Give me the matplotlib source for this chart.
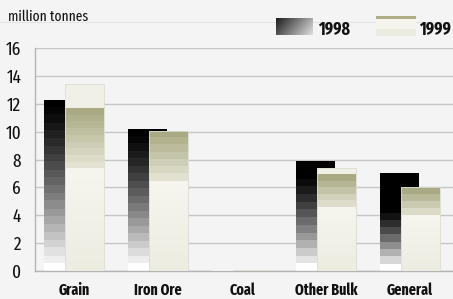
import numpy as np
import matplotlib
matplotlib.use("Agg")
import matplotlib.pyplot as plt
from matplotlib import font_manager as fm
from matplotlib.colors import to_rgb
from matplotlib.lines import Line2D

# ---------------- data ----------------
categories = ["Grain", "Iron Ore", "Coal", "Other Bulk", "General"]
series_labels = ["1998", "1999"]
values_1998 = [12.3, 10.2, 0.1, 7.9, 7.0]
values_1999 = [13.4, 10.05, 0.1, 7.4, 6.0]
y_ticks = [0, 2, 4, 6, 8, 10, 12, 14, 16]
y_label = "million tonnes"

# ---------------- style (gradient shaping per bar, as fractions of bar height) ----------------
black_from_1998 = [1.0, 1.0, 1.0, 0.9, 0.67]
khaki_band_1999 = [(0.55, 0.87), (0.64, 1.0), (1.0, 1.0), (0.62, 0.93), (0.67, 1.0)]

avail = {f.name for f in fm.fontManager.ttflist}
cands = ["Fira Sans Extra Condensed", "Fira Sans Condensed", "Roboto Condensed", "PT Sans Narrow",
         "Archivo Narrow", "Liberation Sans Narrow"]
fam = [f for f in cands if f in avail][:1] + ["DejaVu Sans"]
plt.rcParams["font.family"] = fam

W, H = 453, 299
BG = "#f4f4f4"
fig = plt.figure(figsize=(W / 100, H / 100), dpi=100)
fig.patch.set_facecolor(BG)
ax = fig.add_axes([35 / W, 1 - 271 / H, (W - 35) / W, (271 - 48) / H])
ax.set_facecolor(BG)

x = np.arange(len(categories))
w, d = 0.46, 0.125
bars98 = ax.bar(x - d, values_1998, w, facecolor="none", edgecolor="none", zorder=2)
bars99 = ax.bar(x + d, values_1999, w, facecolor="none", edgecolor="#dcdcd0", linewidth=0.6, zorder=3)

ROWS = 400


def lerp(c1, c2, t):
    a, b = np.array(to_rgb(c1)), np.array(to_rgb(c2))
    return a + (b - a) * t


def img_1998(h, g):
    n = max(2, int(round(g * h / 0.55)))
    img = np.zeros((ROWS, 1, 3))
    for r in range(ROWS):
        f = (r + 0.5) / ROWS
        t = min(f / g, 1.0)
        tq = min(np.floor(t * n) / (n - 1), 1.0)
        v = (1.0 - tq) ** 1.25
        img[r, 0] = [v, v, v]
    return img


def img_1999(h, a, b):
    nk = max(1, int(round((b - a) * h / 0.5)))
    img = np.zeros((ROWS, 1, 3))
    for r in range(ROWS):
        f = (r + 0.5) / ROWS
        if f < a:
            img[r, 0] = lerp("#edece1", "#f6f6ef", f / a)
        elif f <= b:
            t = (f - a) / (b - a) if b > a else 1.0
            tq = np.ceil(t * nk) / nk
            img[r, 0] = lerp("#ecebdd", "#a9a983", tq)
        else:
            img[r, 0] = to_rgb("#f1f0e7")
    return img


for i, p in enumerate(bars98.patches):
    x0, h = p.get_x(), p.get_height()
    im = ax.imshow(img_1998(h, black_from_1998[i]), extent=(x0, x0 + p.get_width(), 0, h),
                   origin="lower", aspect="auto", interpolation="nearest", zorder=1.9)
    im.set_clip_path(p)

for i, p in enumerate(bars99.patches):
    x0, h = p.get_x(), p.get_height()
    a, b = khaki_band_1999[i]
    im = ax.imshow(img_1999(h, a, b), extent=(x0, x0 + p.get_width(), 0, h),
                   origin="lower", aspect="auto", interpolation="nearest", zorder=2.9)
    im.set_clip_path(p)

ax.set_xlim(-0.464, 4.51)
ax.set_ylim(0, 16)
ax.set_yticks(y_ticks)
ax.set_yticklabels([str(v) for v in y_ticks], fontsize=13.5, color="#111111")
ax.set_xticks(x)
ax.set_xticklabels(categories, fontsize=11, fontweight="bold", color="#111111")
ax.tick_params(axis="both", length=0)
ax.tick_params(axis="y", pad=10)
ax.tick_params(axis="x", pad=8)
ax.yaxis.grid(True, color="#c6c6c6", linewidth=1)
ax.set_axisbelow(True)
for s in ["top", "right"]:
    ax.spines[s].set_visible(False)
for s in ["left", "bottom"]:
    ax.spines[s].set_color("#b4b4b4")
    ax.spines[s].set_linewidth(1)

# header text and faint separator
fig.text(8 / W, 1 - 21 / H, y_label, fontsize=10.5, color="#111111", va="baseline", ha="left")
fig.add_artist(Line2D([0, 1], [1 - 22 / H, 1 - 22 / H], color="#e4e4e4", linewidth=0.8))

# legend (overlay in pixel coordinates)
lax = fig.add_axes([0, 0, 1, 1], zorder=5)
lax.axis("off")
lax.patch.set_alpha(0)

gx = np.linspace(0, 1, 40)[None, :]
gy = np.linspace(0, 1, 17)[:, None]
g = np.clip(0.12 + 0.55 * gx + 0.2 * gy, 0, 1)
lax.imshow(np.dstack([g, g, g]), extent=(276, 313, 35, 18), aspect="auto", interpolation="bilinear")
lax.imshow(np.array([[to_rgb("#aeae88")]] * 3 + [[to_rgb("#f4f3ec")]] * 10 + [[to_rgb("#ecebe0")]] * 7),
           extent=(376, 416, 36, 16), aspect="auto", interpolation="nearest")
lax.text(318, 35, series_labels[0], fontsize=12.5, fontweight="bold", color="#111111", va="baseline")
lax.text(419, 35, series_labels[1], fontsize=12.5, fontweight="bold", color="#111111", va="baseline")
lax.set_xlim(0, W)
lax.set_ylim(H, 0)

fig.savefig("out.png", dpi=100, facecolor=BG)
